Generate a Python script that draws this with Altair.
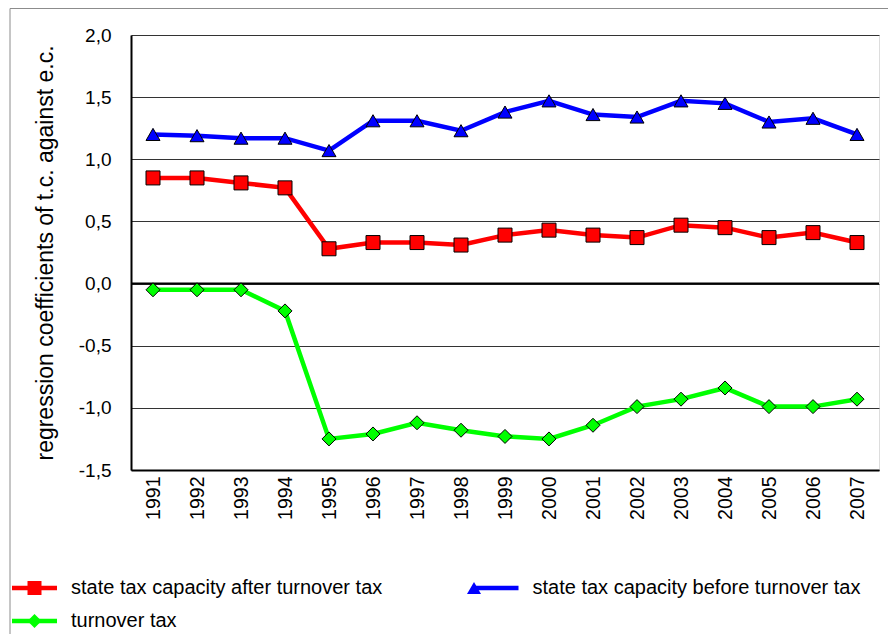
import altair as alt
import pandas as pd

years = ["1991", "1992", "1993", "1994", "1995", "1996", "1997", "1998", "1999",
         "2000", "2001", "2002", "2003", "2004", "2005", "2006", "2007"]
after = [0.85, 0.85, 0.81, 0.77, 0.28, 0.33, 0.33, 0.31, 0.39, 0.43, 0.39, 0.37,
         0.47, 0.45, 0.37, 0.41, 0.33]
before = [1.20, 1.19, 1.17, 1.17, 1.07, 1.31, 1.31, 1.23, 1.38, 1.47, 1.36, 1.34,
          1.47, 1.45, 1.30, 1.33, 1.20]
turnover = [-0.05, -0.05, -0.05, -0.22, -1.25, -1.21, -1.12, -1.18, -1.23, -1.25,
            -1.14, -0.99, -0.93, -0.84, -0.99, -0.99, -0.93]
series_names = ["state tax capacity after turnover tax",
                "state tax capacity before turnover tax",
                "turnover tax"]
colors = ["#FF0000", "#0000FF", "#00FF00"]
shapes = ["square", "triangle-up", "diamond"]
y_title = "regression coefficients of t.c. against e.c."

rows = []
for name, vals in zip(series_names, [after, before, turnover]):
    for yr, v in zip(years, vals):
        rows.append({"year": yr, "value": v, "s": name, "s2": name})
df = pd.DataFrame(rows)

FONT = "Liberation Sans"

x_enc = alt.X("year:O", title=None,
              scale=alt.Scale(domain=years),
              axis=alt.Axis(labelAngle=270, labelFontSize=19.5, labelPadding=6,
                            ticks=False, grid=False, domainColor="black",
                            domainWidth=2, labelColor="black", labelFont=FONT))
y_enc = alt.Y("value:Q", title=y_title,
              scale=alt.Scale(domain=[-1.5, 2.0], nice=False),
              axis=alt.Axis(values=[-1.5, -1.0, -0.5, 0.0, 0.5, 1.0, 1.5, 2.0],
                            labelExpr="replace(replace(format(datum.value,'.1f'),'.',','),'\u2212','-')",
                            labelFontSize=19, labelPadding=20, ticks=False,
                            grid=True, gridColor="#333333", gridWidth=1,
                            domainColor="black", domainWidth=2,
                            labelColor="black", labelFont=FONT,
                            titleFont=FONT, titleFontSize=23,
                            titleFontWeight="normal", titleColor="black",
                            titlePadding=21))

border = alt.Chart(pd.DataFrame({"a": [0]})).mark_rect(
    fillOpacity=0, stroke="#8c8c8c", strokeWidth=1
).encode(x=alt.value(-121), x2=alt.value(780), y=alt.value(-26.5), y2=alt.value(640))

zero = alt.Chart(pd.DataFrame({"z": [0.0]})).mark_rule(
    color="black", strokeWidth=2
).encode(y="z:Q")

common_legend = dict(orient="none", legendX=-106.5, legendY=543,
                     columns=2, direction="horizontal", title=None, padding=0,
                     labelFontSize=20, labelFont=FONT, labelOffset=26.5,
                     rowPadding=13, labelLimit=500)

line_legend = alt.Legend(symbolType="M-4.2857,0H4.2857", symbolStrokeWidth=4.5,
                         symbolSize=110.25, labelColor="black",
                         columnPadding=81.5, **common_legend)

marker_legend = alt.Legend(symbolSize=196, symbolStrokeColor="black",
                           symbolStrokeWidth=1, symbolOpacity=1,
                           labelExpr="''", columnPadding=392.5, **common_legend)

lines = alt.Chart(df).mark_line(strokeWidth=4.5).encode(
    x=x_enc, y=y_enc,
    color=alt.Color("s:N", scale=alt.Scale(range=colors), legend=line_legend)
)

points = alt.Chart(df).mark_point(filled=True, size=196, stroke="black",
                                  strokeWidth=1, opacity=1).encode(
    x=x_enc, y=y_enc,
    shape=alt.Shape("s2:N", scale=alt.Scale(range=shapes), legend=marker_legend),
    fill=alt.Fill("s2:N", scale=alt.Scale(range=colors), legend=marker_legend),
)

chart = alt.layer(border, zero, lines, points).properties(
    width=748, height=435,
    autosize=alt.AutoSizeParams(type="none"),
    padding={"left": 123, "top": 27, "right": 9, "bottom": 164},
).configure_view(stroke="#333333", strokeWidth=1).configure(background="white")

chart.save("out.html", embed_options={"renderer": "svg", "actions": False})
